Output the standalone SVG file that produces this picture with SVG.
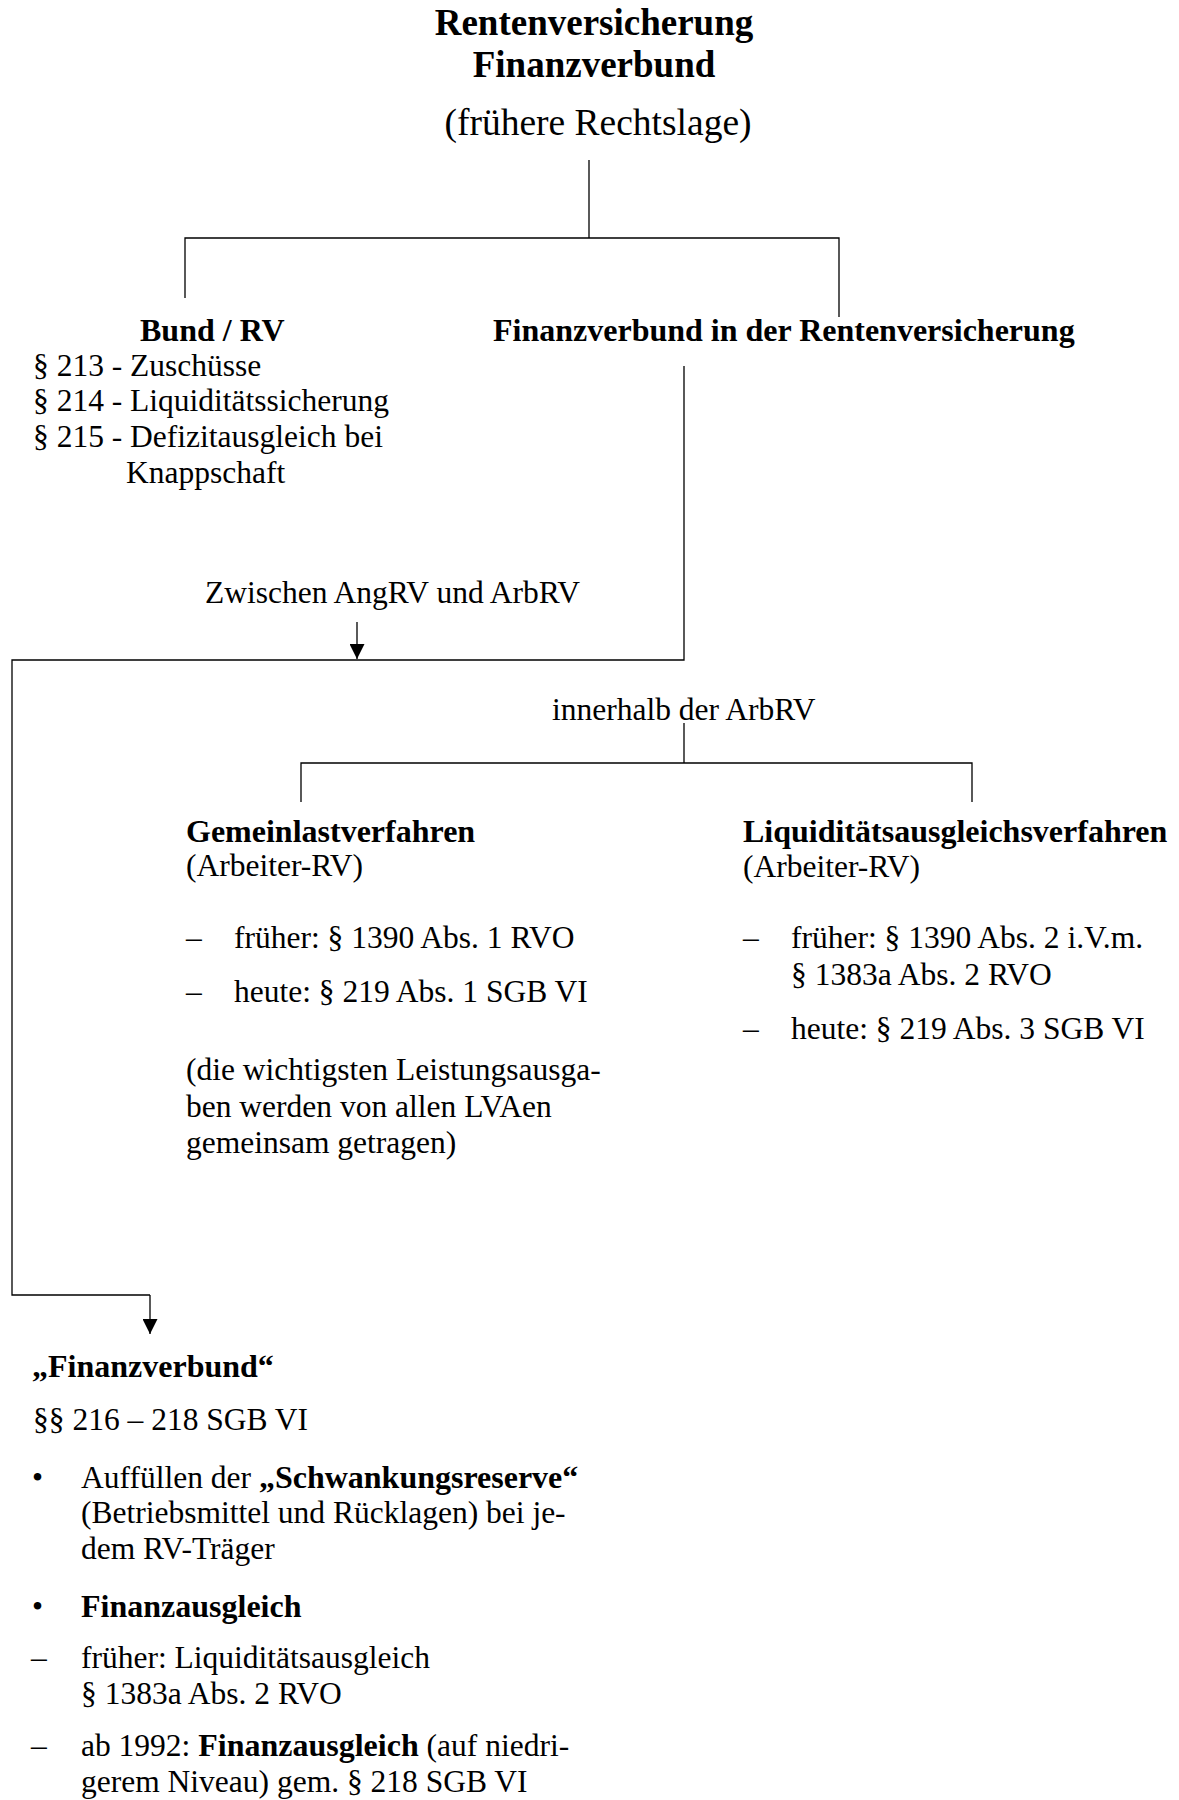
<svg xmlns="http://www.w3.org/2000/svg" width="1179" height="1800" viewBox="0 0 1179 1800">
<style>
text{font-family:"Liberation Serif","Times New Roman",serif;fill:#000;font-size:31.5px}
.b{font-weight:bold;font-size:32px}
.t{font-weight:bold;font-size:37px}
.st{font-size:37.5px}
.ln{stroke:#000;stroke-width:1.3;fill:none}
</style>
<defs>
<marker id="ah" markerWidth="15" markerHeight="15" refX="15" refY="7.5" orient="auto" markerUnits="userSpaceOnUse">
<path d="M0,0 L15,7.5 L0,15 Z" fill="#000"/>
</marker>
</defs>
<rect width="1179" height="1800" fill="#fff"/>
<g id="connectors">
<path class="ln" d="M589,160 V238"/>
<path class="ln" d="M185,298 V238 H839 V317"/>
<path class="ln" d="M684,366 V660 H12 V1295 H150"/>
<path class="ln" d="M150,1295 V1334" marker-end="url(#ah)"/>
<path class="ln" d="M357,622 V659" marker-end="url(#ah)"/>
<path class="ln" d="M684,723 V763"/>
<path class="ln" d="M301,802 V763 H972 V802"/>
</g>
<g id="title">
<text class="t" x="594" y="35" text-anchor="middle">Rentenversicherung</text>
<text class="t" x="594" y="77" text-anchor="middle">Finanzverbund</text>
<text class="st" x="598" y="135" text-anchor="middle">(frühere Rechtslage)</text>
</g>
<g id="bund">
<text class="b" x="140" y="341">Bund / RV</text>
<text x="33" y="376">§ 213 - Zuschüsse</text>
<text x="33" y="411">§ 214 - Liquiditätssicherung</text>
<text x="33" y="447">§ 215 - Defizitausgleich bei</text>
<text x="126" y="483">Knappschaft</text>
</g>
<g id="finanzverbund-rv">
<text class="b" x="493" y="341">Finanzverbund in der Rentenversicherung</text>
</g>
<g id="zwischen">
<text x="205" y="603">Zwischen AngRV und ArbRV</text>
</g>
<g id="innerhalb">
<text x="552" y="720">innerhalb der ArbRV</text>
</g>
<g id="gemeinlast">
<text class="b" x="186" y="842">Gemeinlastverfahren</text>
<text x="186" y="876">(Arbeiter-RV)</text>
<text x="186" y="948">–</text>
<text x="234" y="948">früher: § 1390 Abs. 1 RVO</text>
<text x="186" y="1002">–</text>
<text x="234" y="1002">heute: § 219 Abs. 1 SGB VI</text>
<text x="186" y="1080">(die wichtigsten Leistungsausga-</text>
<text x="186" y="1117">ben werden von allen LVAen</text>
<text x="186" y="1153">gemeinsam getragen)</text>
</g>
<g id="liquiditaet">
<text class="b" x="743" y="842">Liquiditätsausgleichsverfahren</text>
<text x="743" y="877">(Arbeiter-RV)</text>
<text x="743" y="948">–</text>
<text x="791" y="948">früher: § 1390 Abs. 2 i.V.m.</text>
<text x="791" y="985">§ 1383a Abs. 2 RVO</text>
<text x="743" y="1039">–</text>
<text x="791" y="1039">heute: § 219 Abs. 3 SGB VI</text>
</g>
<g id="finanzverbund">
<text class="b" x="32" y="1377">„Finanzverbund“</text>
<text x="33" y="1430">§§ 216 – 218 SGB VI</text>
<text x="32" y="1488">•</text>
<text x="81" y="1488">Auffüllen der <tspan font-weight="bold" font-size="32">„Schwankungsreserve“</tspan></text>
<text x="81" y="1523">(Betriebsmittel und Rücklagen) bei je-</text>
<text x="81" y="1559">dem RV-Träger</text>
<text x="32" y="1617">•</text>
<text class="b" x="81" y="1617">Finanzausgleich</text>
<text x="31" y="1668">–</text>
<text x="81" y="1668">früher: Liquiditätsausgleich</text>
<text x="81" y="1704">§ 1383a Abs. 2 RVO</text>
<text x="31" y="1756">–</text>
<text x="81" y="1756">ab 1992: <tspan font-weight="bold" font-size="32">Finanzausgleich</tspan> (auf niedri-</text>
<text x="81" y="1792">gerem Niveau) gem. § 218 SGB VI</text>
</g>
</svg>
